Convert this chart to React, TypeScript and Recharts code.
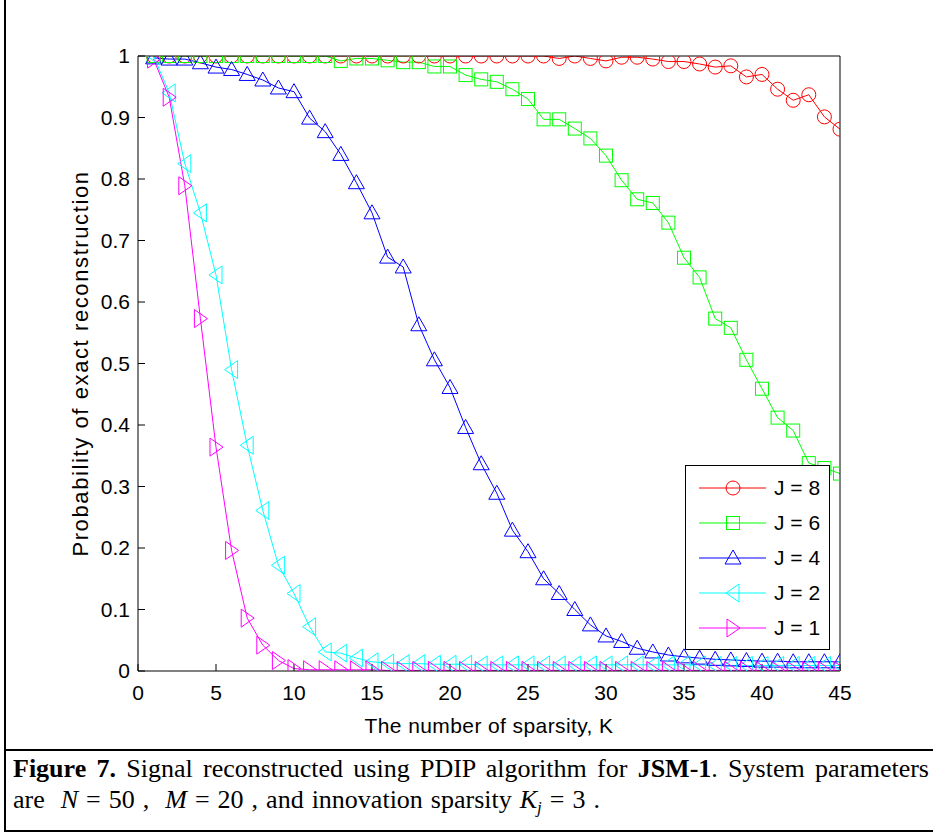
import React from "react";
import { LineChart, Line, XAxis, YAxis, Legend, Label } from "recharts";

const FONT = "'Liberation Sans', Arial, sans-serif";
const SERIF = "'Liberation Serif', 'Times New Roman', serif";

// sparsity K = 1..45
const sparsity = [
  1, 2, 3, 4, 5, 6, 7, 8, 9, 10, 11, 12, 13, 14, 15, 16, 17, 18, 19, 20, 21, 22, 23,
  24, 25, 26, 27, 28, 29, 30, 31, 32, 33, 34, 35, 36, 37, 38, 39, 40, 41, 42, 43, 44, 45,
];

const probJ8 = [
  1, 1, 1, 1, 1, 1, 1, 1, 1, 1, 1, 1, 1, 1, 1, 1, 1, 1, 1, 1, 1, 1, 1, 1, 1, 1,
  0.996, 1, 0.996, 0.992, 0.998, 0.998, 0.995, 0.991, 0.991, 0.987, 0.982, 0.984,
  0.966, 0.97, 0.946, 0.928, 0.937, 0.901, 0.881,
];

const probJ6 = [
  1, 1, 1, 1, 1, 1, 1, 1, 1, 1, 1, 1, 0.992, 0.996, 0.996, 0.993, 0.99, 0.99, 0.983,
  0.983, 0.969, 0.962, 0.958, 0.946, 0.93, 0.897, 0.897, 0.882, 0.866, 0.838, 0.798,
  0.767, 0.761, 0.729, 0.672, 0.64, 0.573, 0.558, 0.506, 0.459, 0.412, 0.391, 0.338,
  0.33, 0.321,
];

const probJ4 = [
  0.997, 0.995, 0.995, 0.989, 0.982, 0.978, 0.97, 0.961, 0.948, 0.942, 0.899, 0.877,
  0.84, 0.794, 0.745, 0.673, 0.657, 0.563, 0.506, 0.461, 0.396, 0.337, 0.289, 0.229,
  0.194, 0.15, 0.126, 0.1, 0.075, 0.057, 0.048, 0.037, 0.031, 0.026, 0.023, 0.021,
  0.019, 0.018, 0.017, 0.016, 0.016, 0.015, 0.015, 0.015, 0.015,
];

const probJ2 = [
  1, 0.94, 0.825, 0.745, 0.644, 0.49, 0.367, 0.261, 0.172, 0.126, 0.072, 0.031, 0.029,
  0.021, 0.015, 0.013, 0.012, 0.012, 0.011, 0.011, 0.011, 0.01, 0.01, 0.01, 0.01,
  0.01, 0.01, 0.01, 0.01, 0.01, 0.01, 0.01, 0.01, 0.01, 0.01, 0.01, 0.009, 0.009,
  0.009, 0.009, 0.009, 0.009, 0.009, 0.009, 0.009,
];

const probJ1 = [
  0.995, 0.933, 0.789, 0.573, 0.364, 0.196, 0.086, 0.042, 0.017, 0.004, 0.002, 0.002,
  0.002, 0.002, 0.002, 0.001, 0.001, 0.001, 0.001, 0.001, 0.001, 0.001, 0.001, 0.001,
  0.001, 0.001, 0.001, 0.001, 0.001, 0.001, 0.001, 0.001, 0.001, 0.001, 0.001, 0.001,
  0.001, 0.001, 0.001, 0.001, 0.001, 0.001, 0.001, 0.001, 0.001,
];

const xTicks = [0, 5, 10, 15, 20, 25, 30, 35, 40, 45];
const yTicks = [0, 0.1, 0.2, 0.3, 0.4, 0.5, 0.6, 0.7, 0.8, 0.9, 1];
const yTickLabels = ["0", "0.1", "0.2", "0.3", "0.4", "0.5", "0.6", "0.7", "0.8", "0.9", "1"];

const data = sparsity.map((k, i) => ({
  k,
  j8: probJ8[i],
  j6: probJ6[i],
  j4: probJ4[i],
  j2: probJ2[i],
  j1: probJ1[i],
}));

type Shape = "circle" | "square" | "up" | "left" | "right";

const series: { key: string; name: string; color: string; shape: Shape }[] = [
  { key: "j8", name: "J = 8", color: "#ff0000", shape: "circle" },
  { key: "j6", name: "J = 6", color: "#00ff00", shape: "square" },
  { key: "j4", name: "J = 4", color: "#0000ff", shape: "up" },
  { key: "j2", name: "J = 2", color: "#00ffff", shape: "left" },
  { key: "j1", name: "J = 1", color: "#ff00ff", shape: "right" },
];

function Marker({ shape, cx, cy, color }: { shape: Shape; cx: number; cy: number; color: string }) {
  const common = { fill: "none", stroke: color, strokeWidth: 1 };
  if (shape === "circle") return <circle cx={cx} cy={cy} r={7} {...common} />;
  if (shape === "square") return <rect x={cx - 6.5} y={cy - 6.5} width={13} height={13} {...common} />;
  if (shape === "up")
    return <polygon points={`${cx},${cy - 8} ${cx - 8},${cy + 6} ${cx + 8},${cy + 6}`} {...common} />;
  if (shape === "left")
    return <polygon points={`${cx - 7},${cy} ${cx + 6},${cy - 9} ${cx + 6},${cy + 9}`} {...common} />;
  return <polygon points={`${cx + 7},${cy} ${cx - 6},${cy - 9} ${cx - 6},${cy + 9}`} {...common} />;
}

const renderLegend = () => (
  <div
    style={{
      width: 145,
      height: 185,
      boxSizing: "border-box",
      border: "1px solid #000",
      background: "#fff",
      paddingTop: 4,
      fontFamily: FONT,
      fontSize: 21,
      color: "#000",
    }}
  >
    {series.map((s) => (
      <div key={s.key} style={{ display: "flex", alignItems: "center", height: 35 }}>
        <svg width={88} height={24} style={{ display: "block" }}>
          <line x1={13} y1={12} x2={80} y2={12} stroke={s.color} strokeWidth={1} />
          <Marker shape={s.shape} cx={47} cy={12} color={s.color} />
        </svg>
        <span style={{ whiteSpace: "pre" }}>{s.name}</span>
      </div>
    ))}
  </div>
);

const XLabel = (props: any) => {
  const vb = props.viewBox || { x: 138, y: 671, width: 702, height: 30 };
  return (
    <text
      x={vb.x + vb.width / 2}
      y={vb.y + 62}
      textAnchor="middle"
      fontSize={21}
      fontFamily={FONT}
      letterSpacing={0.4}
      fill="#000"
    >
      The number of sparsity, K
    </text>
  );
};

const YLabel = (props: any) => {
  const vb = props.viewBox || { x: 78, y: 56, width: 60, height: 615 };
  const x = vb.x + 10;
  const y = vb.y + vb.height / 2;
  return (
    <text
      x={x}
      y={y}
      transform={`rotate(-90 ${x} ${y})`}
      textAnchor="middle"
      fontSize={22}
      fontFamily={FONT}
      letterSpacing={1.6}
      fill="#000"
    >
      Probability of exact reconstruction
    </text>
  );
};

const tickStyle = { fill: "#000", fontSize: 21, fontFamily: FONT };

export default function App() {
  return (
    <div style={{ position: "absolute", left: 0, top: 0, width: 933, height: 832, background: "#fff", overflow: "hidden" }}>
      <div style={{ position: "absolute", left: 0, top: 0 }}>
        <LineChart width={933} height={750} data={data} margin={{ top: 46, right: 83, bottom: 49, left: 78 }}>
          <XAxis
            dataKey="k"
            type="number"
            domain={[0, 45]}
            ticks={xTicks}
            interval={0}
            height={30}
            tickSize={-7}
            tickMargin={21}
            tick={tickStyle}
            axisLine={{ stroke: "#000" }}
            tickLine={{ stroke: "#000" }}
            allowDataOverflow
          >
            <Label content={XLabel} />
          </XAxis>
          <XAxis
            xAxisId="top"
            orientation="top"
            type="number"
            domain={[0, 45]}
            ticks={xTicks}
            interval={0}
            height={10}
            tickSize={-7}
            tick={false}
            axisLine={{ stroke: "#000" }}
            tickLine={{ stroke: "#000" }}
            allowDataOverflow
          />
          <YAxis
            type="number"
            domain={[0, 1]}
            ticks={yTicks}
            interval={0}
            width={60}
            tickSize={-7}
            tickMargin={15}
            tick={tickStyle}
            tickFormatter={(v: number) => yTickLabels[yTicks.indexOf(v)] ?? String(v)}
            axisLine={{ stroke: "#000" }}
            tickLine={{ stroke: "#000" }}
            allowDataOverflow
          >
            <Label content={YLabel} />
          </YAxis>
          <YAxis
            yAxisId="right"
            orientation="right"
            type="number"
            domain={[0, 1]}
            ticks={yTicks}
            interval={0}
            width={10}
            tickSize={-7}
            tick={false}
            axisLine={{ stroke: "#000" }}
            tickLine={{ stroke: "#000" }}
            allowDataOverflow
          />
          {series.map((s) => (
            <Line
              key={s.key}
              type="linear"
              dataKey={s.key}
              name={s.name}
              stroke={s.color}
              strokeWidth={1}
              isAnimationActive={false}
              activeDot={false}
              dot={(p: any) => (
                <Marker key={`${s.key}-${p.index}`} shape={s.shape} cx={p.cx} cy={p.cy} color={s.color} />
              )}
            />
          ))}
          <Legend
            content={renderLegend}
            layout="vertical"
            align="center"
            verticalAlign="middle"
            wrapperStyle={{ left: 685, top: 465, width: 145, height: 185 }}
          />
        </LineChart>
      </div>

      {/* figure frame */}
      <div style={{ position: "absolute", left: 4, top: 0, width: 2, height: 832, background: "#000" }} />
      <div style={{ position: "absolute", left: 4, top: 749, width: 929, height: 2, background: "#000" }} />
      <div style={{ position: "absolute", left: 4, top: 830, width: 929, height: 2, background: "#000" }} />

      {/* caption */}
      <div
        style={{
          position: "absolute",
          left: 13,
          top: 754,
          width: 916,
          fontFamily: SERIF,
          fontSize: 26,
          lineHeight: "30px",
          color: "#000",
          textAlign: "justify",
          textAlignLast: "justify",
          whiteSpace: "nowrap",
        }}
      >
        <b>Figure 7.</b> Signal reconstructed using PDIP algorithm for <b>JSM-1</b>. System parameters
      </div>
      <div
        style={{
          position: "absolute",
          left: 13,
          top: 785,
          fontFamily: SERIF,
          fontSize: 26,
          lineHeight: "30px",
          color: "#000",
          whiteSpace: "pre",
          wordSpacing: 1.5,
        }}
      >
        {"are  "}
        <i>N</i>
        {" = 50 ,  "}
        <i>M</i>
        {" = 20 , and innovation sparsity "}
        <i>K</i>
        <sub style={{ fontSize: 17, verticalAlign: "-5px" }}>
          <i>j</i>
        </sub>
        {" = 3 ."}
      </div>
    </div>
  );
}
